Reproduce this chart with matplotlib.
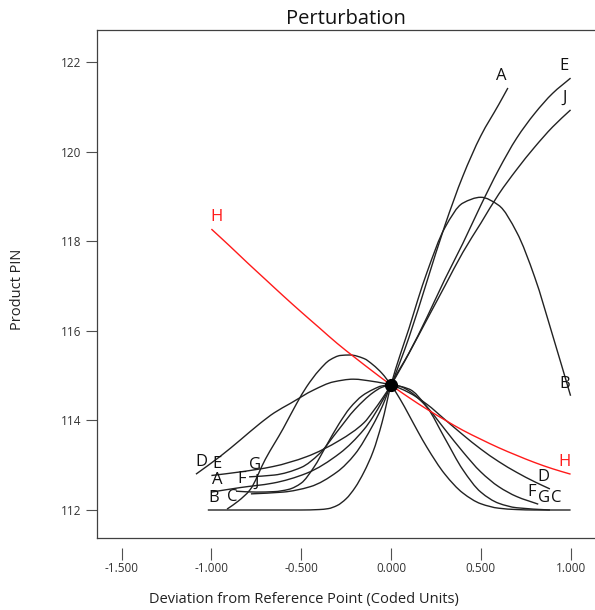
import numpy as np
import matplotlib
matplotlib.use("Agg")
import matplotlib.pyplot as plt
from matplotlib.path import Path
from matplotlib.patches import PathPatch

plt.rcParams["font.family"] = ["Open Sans", "DejaVu Sans"]

# reference point (all factors at 0 deviation)
ref_x, ref_y = 0.0, 114.79

# one trace per factor: deviation (coded) and predicted Product PIN
a_x = [-1.0, -0.84, -0.657, -0.47, -0.284, -0.15, -0.1, -0.05, 0.0, 0.05, 0.1, 0.2, 0.3, 0.4, 0.5, 0.6, 0.651]
a_y = [112.40, 112.50, 112.60, 112.82, 113.27, 113.80, 114.08, 114.42, 114.79, 115.30, 115.85, 117.10, 118.35, 119.45, 120.35, 121.05, 121.42]

b_x = [-1.02, -0.9, -0.8, -0.7, -0.6, -0.5, -0.4, -0.35, -0.3, -0.25, -0.2, -0.15, -0.1, -0.05, 0.0,
       0.05, 0.1, 0.15, 0.2, 0.3, 0.4, 0.5, 0.6, 0.7, 0.8, 0.9, 1.0]
b_y = [112.0, 112.0, 112.0, 112.0, 112.0, 112.0, 112.01, 112.03, 112.10, 112.25, 112.50, 112.85, 113.30, 113.95, 114.79,
       115.45, 116.05, 116.70, 117.30, 118.30, 118.85, 118.98, 118.80, 118.20, 117.20, 115.90, 114.55]

c_x = [-0.913, -0.85, -0.785, -0.7, -0.6, -0.525, -0.47, -0.4, -0.34, -0.28, -0.228, -0.15, -0.1, -0.05, 0.0,
       0.05, 0.1, 0.15, 0.2, 0.3, 0.4, 0.5, 0.6, 0.7, 0.8, 0.9, 1.0]
c_y = [112.02, 112.20, 112.45, 113.13, 113.82, 114.38, 114.75, 115.12, 115.35, 115.45, 115.46, 115.38, 115.24, 115.05, 114.79,
       114.48, 114.12, 113.75, 113.40, 112.80, 112.38, 112.14, 112.04, 112.01, 112.0, 112.0, 112.0]

d_x = [-1.086, -0.95, -0.84, -0.73, -0.65, -0.56, -0.43, -0.32, -0.21, -0.1, 0.0, 0.1, 0.2, 0.3, 0.4, 0.5, 0.6, 0.7, 0.8, 0.885]
d_y = [112.80, 113.20, 113.56, 113.93, 114.17, 114.38, 114.68, 114.86, 114.92, 114.87, 114.79, 114.62, 114.36, 114.02, 113.68, 113.36, 113.08, 112.84, 112.63, 112.47]

e_x = [-1.0, -0.84, -0.657, -0.47, -0.284, -0.15, -0.1, -0.05, 0.0, 0.1, 0.2, 0.3, 0.4, 0.5, 0.6, 0.7, 0.8, 0.9, 1.0]
e_y = [112.77, 112.85, 112.97, 113.19, 113.56, 113.95, 114.20, 114.48, 114.79, 115.50, 116.30, 117.15, 117.95, 118.80, 119.60, 120.30, 120.85, 121.30, 121.64]

f_x = [-0.863, -0.75, -0.65, -0.57, -0.5, -0.43, -0.358, -0.29, -0.228, -0.16, -0.1, -0.05, 0.0,
       0.05, 0.1, 0.2, 0.3, 0.4, 0.5, 0.6, 0.7, 0.82]
f_y = [112.42, 112.40, 112.41, 112.46, 112.60, 112.95, 113.45, 113.92, 114.28, 114.55, 114.69, 114.77, 114.79,
       114.76, 114.66, 114.30, 113.80, 113.30, 112.85, 112.52, 112.30, 112.13]

g_x = [-0.79, -0.65, -0.5, -0.4, -0.3, -0.2, -0.1, -0.05, 0.0, 0.1, 0.2, 0.3, 0.4, 0.5, 0.6, 0.7, 0.885]
g_y = [112.74, 112.78, 112.95, 113.25, 113.75, 114.25, 114.62, 114.74, 114.79, 114.70, 114.30, 113.60, 112.90, 112.40, 112.15, 112.05, 112.0]

h_x = [-1.0, -0.9, -0.8, -0.7, -0.6, -0.5, -0.4, -0.3, -0.2, -0.1, 0.0, 0.1, 0.2, 0.3, 0.4, 0.5, 0.6, 0.7, 0.8, 0.9, 1.0]
h_y = [118.27, 117.90, 117.52, 117.15, 116.78, 116.42, 116.07, 115.72, 115.40, 115.09, 114.79,
       114.51, 114.25, 114.01, 113.78, 113.58, 113.39, 113.22, 113.06, 112.92, 112.80]

j_x = [-0.78, -0.6, -0.45, -0.3, -0.2, -0.1, -0.05, 0.0, 0.1, 0.2, 0.3, 0.4, 0.5, 0.6, 0.7, 0.8, 0.9, 1.0]
j_y = [112.36, 112.40, 112.52, 112.85, 113.25, 113.90, 114.30, 114.79, 115.50, 116.25, 117.00, 117.75, 118.40, 119.05, 119.60, 120.10, 120.55, 120.93]

factors = ["A", "B", "C", "D", "E", "F", "G", "H", "J"]
traces = [(a_x, a_y), (b_x, b_y), (c_x, c_y), (d_x, d_y), (e_x, e_y),
          (f_x, f_y), (g_x, g_y), (h_x, h_y), (j_x, j_y)]

x_ticks = [-1.5, -1.0, -0.5, 0.0, 0.5, 1.0]
y_ticks = [112, 114, 116, 118, 120, 122]


def smooth_path(xs, ys):
    # monotone cubic (pchip style) through the points, as bezier segments
    x = np.asarray(xs, float)
    y = np.asarray(ys, float)
    h = np.diff(x)
    d = np.diff(y) / h
    m = np.zeros_like(y)
    m[0], m[-1] = d[0], d[-1]
    for i in range(1, len(y) - 1):
        if d[i - 1] * d[i] > 0:
            w1 = 2 * h[i] + h[i - 1]
            w2 = h[i] + 2 * h[i - 1]
            m[i] = (w1 + w2) / (w1 / d[i - 1] + w2 / d[i])
    verts = [(x[0], y[0])]
    codes = [Path.MOVETO]
    for i in range(len(x) - 1):
        k = h[i] / 3
        verts += [(x[i] + k, y[i] + m[i] * k),
                  (x[i + 1] - k, y[i + 1] - m[i + 1] * k),
                  (x[i + 1], y[i + 1])]
        codes += [Path.CURVE4] * 3
    return Path(verts, codes)


fig = plt.figure(figsize=(5.95, 6.10), dpi=100)
ax = fig.add_axes([97 / 595, 72 / 610, 498 / 595, 508 / 610])

ax.set_xlim(-1.637, 1.136)
ax.set_ylim(111.375, 122.714)

for name, (xs, ys) in zip(factors, traces):
    col = "#ff1a1a" if name == "H" else "#222222"
    ax.add_patch(PathPatch(smooth_path(xs, ys), fill=False, edgecolor=col, lw=1.0))

    # factor letter at both ends of its trace
    txt_col = "#ff1a1a" if name == "H" else "#111111"
    left_off = (4, 8.5)
    right_off = (-4.5, 8.5)
    if name == "C":
        right_off = (-10, 8.5)
    ax.annotate(name, (xs[0], ys[0]), xytext=left_off, textcoords="offset points",
                ha="center", va="center", fontsize=12, color=txt_col)
    ax.annotate(name, (xs[-1], ys[-1]), xytext=right_off, textcoords="offset points",
                ha="center", va="center", fontsize=12, color=txt_col)

ax.plot(ref_x, ref_y, "o", ms=8.5, color="black", zorder=5)

# frame: left, top and bottom only, ticks set off below the frame
for side in ["left", "top"]:
    ax.spines[side].set_color("#404040")
    ax.spines[side].set_linewidth(0.9)
ax.spines["right"].set_visible(False)
ax.spines["bottom"].set_position(("outward", 7))
ax.spines["bottom"].set_visible(False)
ax.plot([0, 1], [0, 0], transform=ax.transAxes, color="#404040", lw=0.9, clip_on=False)

ax.set_xticks(x_ticks)
ax.set_xticklabels([f"{v:.3f}" for v in x_ticks])
ax.set_yticks(y_ticks)
ax.tick_params(axis="x", direction="out", length=8.5, width=0.8, color="#505050",
               labelsize=8.5, labelcolor="#333333", pad=1.5)
ax.tick_params(axis="y", direction="out", length=8, width=0.8, color="#505050",
               labelsize=8.5, labelcolor="#333333", pad=3)

ax.set_title("Perturbation", fontsize=14.5, pad=4, color="#111111")
fig.text(304 / 595, 1 - 600 / 610, "Deviation from Reference Point (Coded Units)",
         ha="center", va="center", fontsize=10.5, color="#222222")
fig.text(18 / 595, 1 - 289 / 610, "Product PIN", rotation=90,
         ha="center", va="center", fontsize=10.5, color="#222222")

fig.savefig("out.png", dpi=100)
